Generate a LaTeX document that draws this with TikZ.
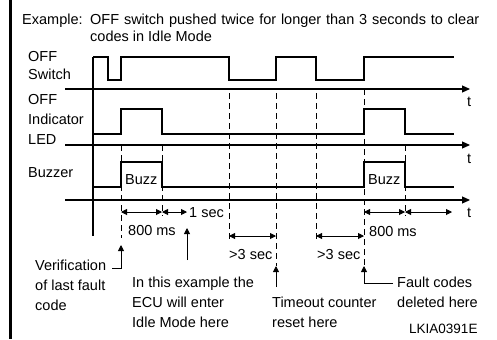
\documentclass[tikz,border=0pt]{standalone}
\usepackage{fontspec}
\setmainfont{Liberation Sans}
\usetikzlibrary{arrows.meta}

\begin{document}
\begin{tikzpicture}[
    x=1bp, y=-1bp,
    >={Triangle[length=6bp, width=6bp]},
    every node/.style={font=\fontsize{14.5bp}{20bp}\selectfont, inner sep=0pt},
    sig/.style={line width=1.1bp},
    axisln/.style={line width=1.1bp, -{Triangle[length=8bp, width=7bp]}},
    guide/.style={line width=0.9bp, dash pattern=on 6bp off 4bp},
    dimarr/.style={<->, line width=0.9bp},
    notearr/.style={->, line width=0.9bp},
    lbl/.style={anchor=base west, align=left},
    tlbl/.style={anchor=base west}
]
\useasboundingbox (0,0) rectangle (497,339);
% Event x-positions
\def\xA{93}  \def\xB{108} \def\xC{121} \def\xD{162} \def\xE{229}
\def\xF{276} \def\xG{316} \def\xH{364} \def\xI{405} \def\xJ{454}
\def\xst{65} \def\xend{470}
% y-positions
\def\ySh{57}  \def\ySl{80}  \def\ySa{89}
\def\yLh{109} \def\yLl{134} \def\yLa{145}
\def\yBh{162} \def\yBl{187} \def\yBa{200}
\def\yrA{212} \def\yrB{236}
% Left border
\fill (9,0) rectangle (12,339);
% Title (multi-line nodes sit on their last baseline)
\node[lbl] (exlbl) at (22,24) {Example:};
\node[lbl] (title) at (90,41) {\makebox[389bp][s]{OFF switch pushed twice for longer than 3 seconds to clear}\\[-3bp]codes in Idle Mode};
% Signal names
\node[lbl] (swlbl) at (28,79) {OFF\\[-2bp]Switch};
\node[lbl] (ledlbl) at (28,144) {OFF\\Indicator\\LED};
\node[lbl] (bzlbl) at (28,177) {Buzzer};
% Dashed guides (drawn first, signals go on top)
\foreach \x/\ya/\yb in {\xC/\yLa/238, \xD/\yLa/216, \xE/93/240, \xF/93/266,
                        \xG/93/240, \xH/\ySa/266, \xI/\yLa/216} {
  \draw[guide] (\x,\ya) -- (\x,\yb);
}
% Time axes
\foreach \y in {\ySa, \yLa, \yBa} {
  \draw[axisln] (\xst,\y) -- (\xend,\y);
}
\node[tlbl] (tsw) at (467,106) {t};
\node[tlbl] (tled) at (467,163) {t};
\node[tlbl] (tbz) at (467,217) {t};
\draw[sig] (\xA,\ySh) -- (\xA,\yrB);
% --- OFF switch
\draw[sig] (\xA,\ySh) -- (\xB,\ySh) -- (\xB,\ySl) -- (\xC,\ySl) -- (\xC,\ySh)
  -- (\xE,\ySh) -- (\xE,\ySl) -- (\xF,\ySl) -- (\xF,\ySh) -- (\xG,\ySh)
  -- (\xG,\ySl) -- (\xH,\ySl) -- (\xH,\ySh) -- (\xJ,\ySh);
% --- Indicator LED
\draw[sig] (\xA,\yLl) -- (\xC,\yLl) -- (\xC,\yLh) -- (\xD,\yLh) -- (\xD,\yLl)
  -- (\xH,\yLl) -- (\xH,\yLh) -- (\xI,\yLh) -- (\xI,\yLl) -- (\xJ,\yLl);
% --- Buzzer
\draw[sig] (\xA,\yBl) -- (\xC,\yBl) -- (\xC,\yBh) -- (\xD,\yBh) -- (\xD,\yBl)
  -- (\xH,\yBl) -- (\xH,\yBh) -- (\xI,\yBh) -- (\xI,\yBl) -- (\xJ,\yBl);
\node[lbl] (buzzA) at (125,184) {Buzz};
\node[lbl] (buzzB) at (368,184) {Buzz};
% --- Interval arrows
\coordinate (pC) at (\xC,\yrA);  \coordinate (pD) at (\xD,\yrA);
\coordinate (pS) at (187,\yrA);
\coordinate (pH) at (\xH,\yrA);  \coordinate (pI) at (\xI,\yrA);
\coordinate (pT) at (452,\yrA);
\coordinate (qE) at (\xE,\yrB);  \coordinate (qF) at (\xF,\yrB);
\coordinate (qG) at (\xG,\yrB);  \coordinate (qH) at (\xH,\yrB);
\draw[dimarr] (pC) -- (pD);
\draw[dimarr] (pD) -- (pS);
\draw[dimarr] (pH) -- (pI);
\draw[dimarr] (pI) -- (pT);
\draw[dimarr] (qE) -- (qF);
\draw[dimarr] (qG) -- (qH);
\node[lbl] (msA) at (128,235) {800 ms};
\node[lbl] (onesec) at (189,217) {1 sec};
\node[lbl] (msB) at (369,236) {800 ms};
\node[lbl] (gtA) at (229,259) {>3 sec};
\node[lbl] (gtB) at (317,259) {>3 sec};
% --- Notes
\node[lbl] (verif) at (35,310) {Verification\\of last fault\\code};
\node[lbl] (idle) at (132,327) {In this example the\\ECU will enter\\Idle Mode here};
\node[lbl] (reset) at (272,327) {Timeout counter\\reset here};
\node[lbl] (deleted) at (397,307) {Fault codes\\deleted here};
\coordinate (verFrom) at (112,268); \coordinate (verTip) at (\xC,245);
\coordinate (idleFrom) at (187,260); \coordinate (idleTip) at (187,228);
\coordinate (resFrom) at (\xF,287); \coordinate (resTip) at (\xF,266);
\coordinate (delFrom) at (393,283); \coordinate (delTip) at (\xH,266);
\draw[notearr] (verFrom) -| (verTip);
\draw[notearr] (idleFrom) -- (idleTip);
\draw[notearr] (resFrom) -- (resTip);
\draw[notearr] (delFrom) -| (delTip);
\node[lbl, font=\fontsize{13.5bp}{15bp}\selectfont] (figid) at (409,333) {LKIA0391E};
\end{tikzpicture}
\end{document}
